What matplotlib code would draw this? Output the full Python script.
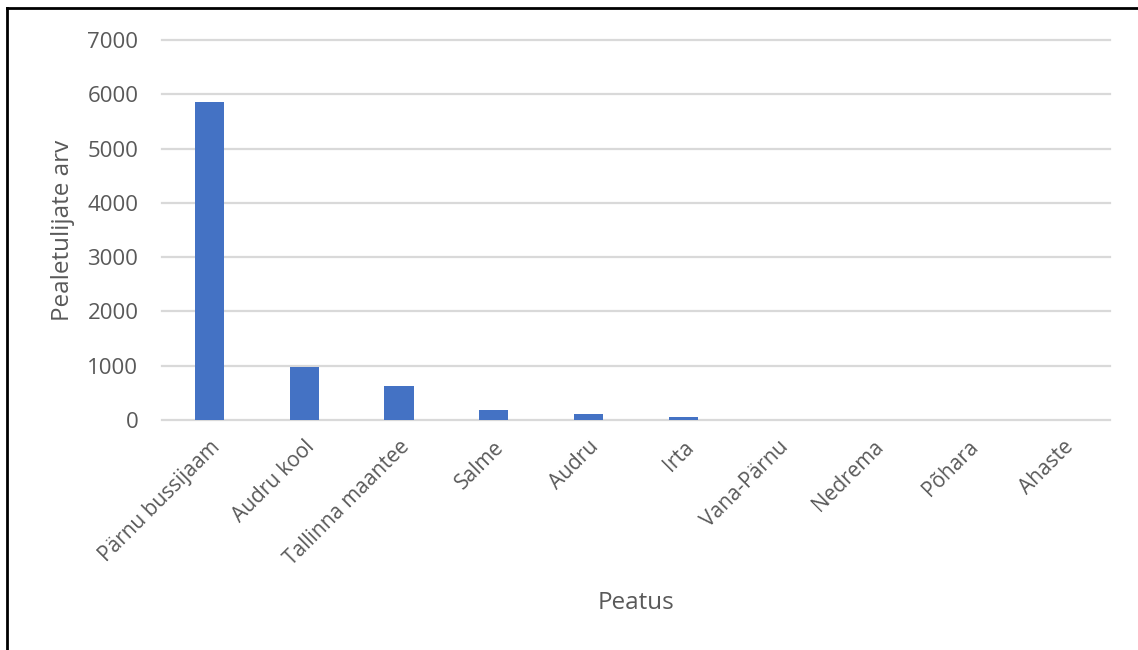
import matplotlib.pyplot as plt
from matplotlib.lines import Line2D

stops = ["Pärnu bussijaam", "Audru kool", "Tallinna maantee", "Salme", "Audru",
         "Irta", "Vana-Pärnu", "Nedrema", "Põhara", "Ahaste"]
riders = [5860, 970, 630, 185, 110, 55, 0, 0, 0, 0]
yticks = [0, 1000, 2000, 3000, 4000, 5000, 6000, 7000]

plt.rcParams['font.family'] = ['Open Sans', 'DejaVu Sans']
grey = '#595959'

fig = plt.figure(figsize=(11.38, 6.5), dpi=100)
ax = fig.add_axes([162 / 1138, 1 - 420 / 650, 948 / 1138, 380 / 650])

x = range(len(stops))
ax.bar(x, riders, width=0.31, color='#4472C4', zorder=3)

ax.set_xlim(-0.5, len(stops) - 0.5)
ax.set_ylim(0, 7000)
ax.set_yticks(yticks)
ax.set_xticks(list(x))
ax.set_xticklabels(stops, rotation=45, ha='right', rotation_mode='anchor')
ax.yaxis.grid(True, color='#D9D9D9', linewidth=1.6, zorder=0)
for gl in ax.get_ygridlines():
    gl.set_clip_on(False)
for s in ax.spines.values():
    s.set_visible(False)
ax.tick_params(axis='both', length=0, labelcolor=grey)
ax.tick_params(axis='y', pad=17, labelsize=16)
ax.tick_params(axis='x', pad=12, labelsize=15)

ax.set_ylabel('Pealetulijate arv', fontsize=17.5, color=grey)
ax.set_xlabel('Peatus', fontsize=17.5, color=grey)
ax.yaxis.set_label_coords(-0.092, 0.5)
ax.xaxis.set_label_coords(0.5, -0.45)

# outer frame (top and left edges visible)
fig.add_artist(Line2D([6.5 / 1138, 1], [1 - 8 / 650, 1 - 8 / 650], color='black', linewidth=2, transform=fig.transFigure))
fig.add_artist(Line2D([6.5 / 1138, 6.5 / 1138], [0, 1 - 8 / 650], color='black', linewidth=2, transform=fig.transFigure))

fig.savefig('out.png', dpi=100)
